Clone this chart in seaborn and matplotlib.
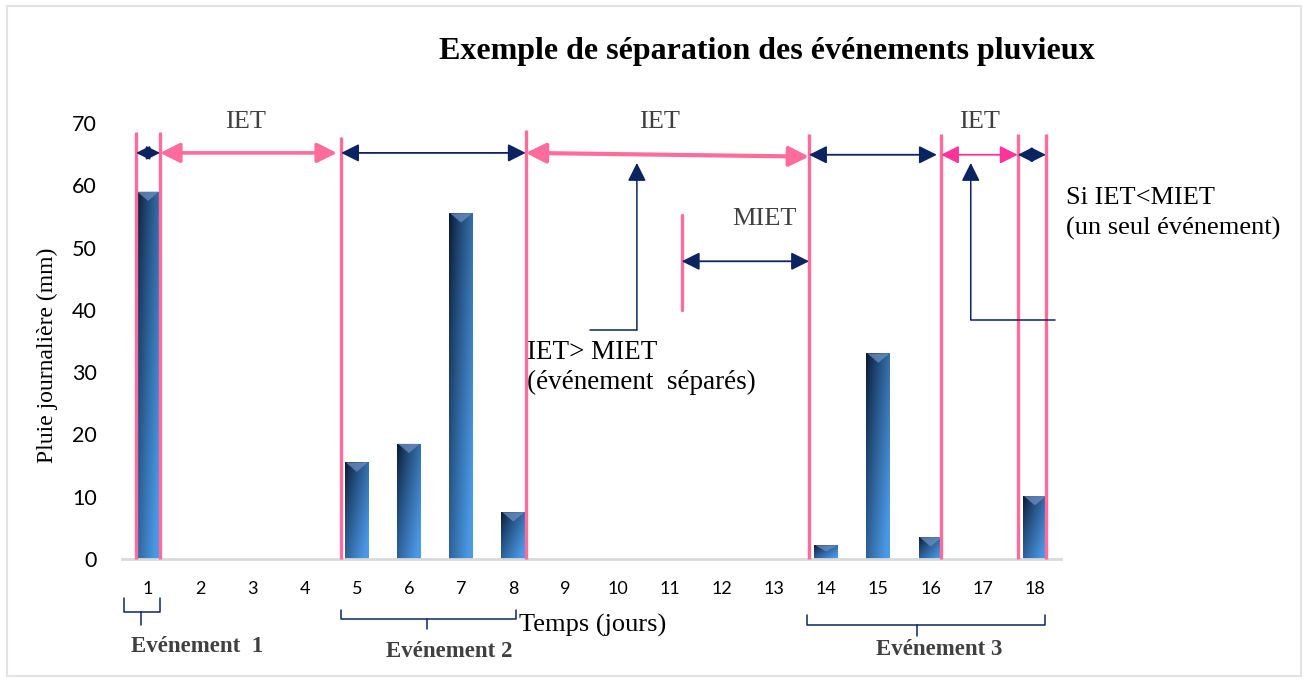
import numpy as np
import pandas as pd
import matplotlib
matplotlib.use("Agg")
import matplotlib.pyplot as plt
from matplotlib.patches import Polygon, Rectangle
import seaborn as sns

# ---------------- data ----------------
days = [str(d) for d in range(1, 19)]
rain = [59, 0, 0, 0, 15.5, 18.5, 55.5, 7.5, 0, 0, 0, 0, 0, 2.2, 33, 3.5, 0, 10.1]
yticks = [0, 10, 20, 30, 40, 50, 60, 70]
title = "Exemple de séparation des événements pluvieux"
ylabel = "Pluie journalière (mm)"
xlabel = "Temps (jours)"
event_labels = ["Evénement  1", "Evénement 2", "Evénement 3"]

sns.set_theme(style="white")
plt.rcParams['font.family'] = ['Liberation Serif', 'DejaVu Serif']

PINK = "#ff6b9b"
MAGENTA = "#ff3399"
NAVY = "#0b2461"
GREY_TXT = "#404040"
SANS = ['Lato', 'DejaVu Sans']

fig = plt.figure(figsize=(13.07, 6.82), dpi=100)
fig.patch.set_facecolor("white")
ax = fig.add_axes([122/1307, 123/682, (1061-122)/1307, (559-123)/682])

df = pd.DataFrame({"day": days, "rain": rain})
sns.barplot(data=df, x="day", y="rain", ax=ax, width=0.46, color="#1f4e85",
            saturation=1, zorder=2)

ax.set_xlim(-0.5, 17.5)
ax.set_ylim(0, 70)
ax.set_yticks(yticks)
ax.set_xlabel("")
ax.set_ylabel("")
for s in ["left", "right", "top"]:
    ax.spines[s].set_visible(False)
ax.spines["bottom"].set_color("#d9d9d9")
ax.spines["bottom"].set_linewidth(2)
ax.tick_params(axis="y", length=0, pad=18, labelsize=15.5)
ax.tick_params(axis="x", length=0, pad=16, labelsize=13)
for lab in ax.get_xticklabels() + ax.get_yticklabels():
    lab.set_family(SANS)
    lab.set_color("black")

# gradient fill for bars
dark = np.array([0.02, 0.07, 0.16])
light = np.array([0.29, 0.60, 0.90])
gh, gw = 120, 40
u = np.linspace(0, 1, gw)[None, :]
v = np.linspace(0, 1, gh)[:, None]
t = np.clip(0.6 * u + 0.5 * v + 0.02, 0, 1) ** 0.8
grad = dark[None, None, :] + (light - dark)[None, None, :] * t[:, :, None]
for p in list(ax.patches):
    x0, w, h = p.get_x(), p.get_width(), p.get_height()
    if h <= 0:
        continue
    p.set_facecolor("none")
    p.set_edgecolor("none")
    im = ax.imshow(grad, extent=[x0, x0 + w, 0, h], aspect="auto",
                   origin="upper", zorder=2, interpolation="bilinear")
    im.set_clip_path(p)
    d = min(1.5, h * 0.45)
    ax.add_patch(Polygon([[x0 + 0.02, h], [x0 + w - 0.02, h], [x0 + w / 2, h - d]],
                         closed=True, facecolor="#6d8fbf", edgecolor="none",
                         alpha=0.75, zorder=3))
ax.set_xlim(-0.5, 17.5)
ax.set_ylim(0, 70)

# separation lines (positions relative to bar categories)
sep_x = [-0.23, 0.23, 3.70, 7.24, 12.67, 15.20, 16.67, 17.21]
sep_top = [68.5, 68.5, 67.8, 68.8, 68.3, 68.3, 68.3, 68.3]
for x, top in zip(sep_x, sep_top):
    ax.plot([x, x], [0, top], color=PINK, lw=2.4, zorder=4, clip_on=False,
            solid_capstyle="butt")

def harrow(x1, x2, y1, y2, color, lw, ms):
    ax.annotate("", xy=(x2, y2), xytext=(x1, y1),
                arrowprops=dict(arrowstyle="<|-|>", color=color, lw=lw,
                                mutation_scale=ms, shrinkA=0, shrinkB=0),
                zorder=5, annotation_clip=False)

harrow(-0.23, 0.23, 65.2, 65.2, NAVY, 1.2, 21)
harrow(0.23, 3.62, 65.2, 65.2, PINK, 2.6, 30)
harrow(3.70, 7.24, 65.2, 65.2, NAVY, 1.3, 27)
harrow(7.24, 12.67, 65.2, 64.6, PINK, 3.0, 30)
harrow(12.67, 15.12, 64.9, 64.9, NAVY, 1.3, 27)
harrow(15.20, 16.67, 64.9, 64.9, MAGENTA, 1.3, 27)
harrow(16.67, 17.21, 64.9, 64.9, NAVY, 1.2, 23)

for x in [1.86, 9.81, 15.94]:
    ax.text(x, 70.2, "IET", ha="center", va="center", fontsize=19, color=GREY_TXT,
            clip_on=False)

# MIET
ax.plot([10.23, 10.23], [40.0, 55.2], color=PINK, lw=2.4, zorder=4)
harrow(10.23, 12.67, 47.8, 47.8, NAVY, 1.3, 27)
ax.text(11.82, 54.6, "MIET", ha="center", va="center", fontsize=19, color=GREY_TXT)

# annotation elbow arrows
def elbow(xs, xc, yc, ytop):
    ax.plot([xs, xc], [yc, yc], color=NAVY, lw=1.1, zorder=5, clip_on=False)
    ax.annotate("", xy=(xc, ytop), xytext=(xc, yc),
                arrowprops=dict(arrowstyle="-|>", color=NAVY, lw=1.1,
                                mutation_scale=28, shrinkA=0, shrinkB=0),
                zorder=5, annotation_clip=False)

elbow(8.47, 9.37, 36.8, 63.6)
elbow(17.38, 15.77, 38.4, 63.6)

ax.text(7.26, 33.2, "IET> MIET", ha="left", va="center", fontsize=19.5, color="black")
ax.text(7.26, 28.4, "(événement  séparés)", ha="left", va="center", fontsize=19.5,
        color="black")
ax.text(17.59, 58.0, "Si IET<MIET", ha="left", va="center", fontsize=19,
        color="black", clip_on=False)
ax.text(17.59, 53.1, "(un seul événement)", ha="left", va="center", fontsize=19,
        color="black", clip_on=False)

# braces below the axis
def brace(xl, xr, ytop, yh, xm, ybot):
    ax.plot([xl, xl, xr, xr], [ytop, yh, yh, ytop], color=NAVY, lw=1.1,
            clip_on=False, zorder=5)
    ax.plot([xm, xm], [yh, ybot], color=NAVY, lw=1.1, clip_on=False, zorder=5)

brace(-0.46, 0.23, -6.3, -8.5, -0.13, -10.6)
brace(3.70, 7.05, -8.2, -9.7, 5.35, -11.3)
brace(12.64, 17.19, -9.0, -10.6, 14.74, -12.3)

ax.text(0.94, -14.0, event_labels[0], ha="center", va="center", fontsize=16.5,
        fontweight="bold", color=GREY_TXT, clip_on=False)
ax.text(5.77, -14.8, event_labels[1], ha="center", va="center", fontsize=16.5,
        fontweight="bold", color=GREY_TXT, clip_on=False)
ax.text(15.16, -14.6, event_labels[2], ha="center", va="center", fontsize=16.5,
        fontweight="bold", color=GREY_TXT, clip_on=False)

ax.text(8.52, -10.6, xlabel, ha="center", va="center", fontsize=19, color="black",
        clip_on=False)

fig.text(767/1307, 1 - 52/682, title, ha="center", va="center", fontsize=23,
         fontweight="bold", color="black")
fig.text(47/1307, 1 - 355/682, ylabel, ha="center", va="center", rotation=90,
         fontsize=17, color="black")

fig.add_artist(Rectangle((7/1307, 6/682), (1301-7)/1307, (676-6)/682,
                         transform=fig.transFigure, fill=False,
                         edgecolor="#e3e3e3", lw=1.5))

fig.savefig("out.png", dpi=100)
